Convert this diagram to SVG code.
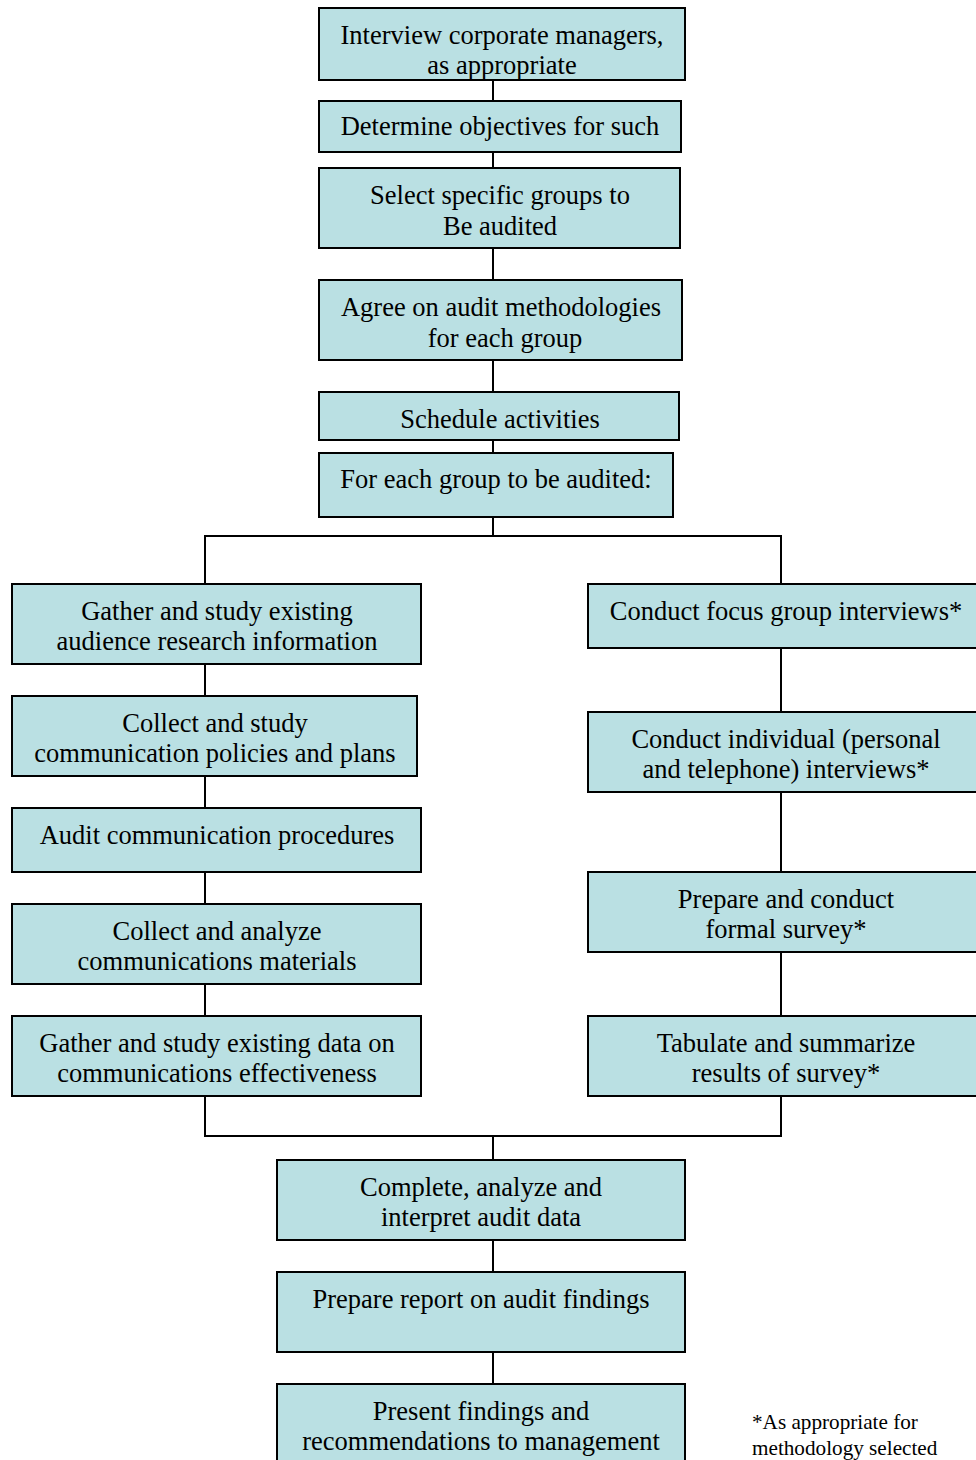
<svg xmlns="http://www.w3.org/2000/svg" width="976" height="1460" viewBox="0 0 976 1460">
<style>
.b{fill:#BAE0E3;stroke:#000;stroke-width:2}
.t{font-family:"Liberation Serif","Times New Roman",serif;font-size:26.5px;fill:#000;text-anchor:middle}
.f{font-family:"Liberation Serif","Times New Roman",serif;font-size:21.2px;fill:#000}
.c{fill:none;stroke:#000;stroke-width:2}
</style>
<rect width="976" height="1460" fill="#fff"/>
<g id="connectors" class="c">
<path d="M493 80V101M493 152V168M493 248V280M493 360V392M493 440V453M493 517V536"/>
<path d="M205 584V536H781V584"/>
<path d="M205 664V696M205 776V808M205 872V904M205 984V1016"/>
<path d="M781 648V712M781 792V872M781 952V1016"/>
<path d="M205 1096V1136H781V1096M493 1136V1160"/>
<path d="M493 1240V1272M493 1352V1384"/>
</g>
<g id="n1"><rect class="b" x="319" y="8" width="366" height="72"/><text class="t" x="502" y="44">Interview corporate managers,</text><text class="t" x="502" y="74">as appropriate</text></g>
<g id="n2"><rect class="b" x="319" y="101" width="362" height="51"/><text class="t" x="500" y="135">Determine objectives for such</text></g>
<g id="n3"><rect class="b" x="319" y="168" width="361" height="80"/><text class="t" x="500" y="204">Select specific groups to</text><text class="t" x="500" y="235">Be audited</text></g>
<g id="n4"><rect class="b" x="319" y="280" width="363" height="80"/><text class="t" x="501" y="316">Agree on audit methodologies</text><text class="t" x="505" y="347">for each group</text></g>
<g id="n5"><rect class="b" x="319" y="392" width="360" height="48"/><text class="t" x="500" y="428">Schedule activities</text></g>
<g id="n6"><rect class="b" x="319" y="453" width="354" height="64"/><text class="t" x="496" y="488">For each group to be audited:</text></g>
<g id="l1"><rect class="b" x="12" y="584" width="409" height="80"/><text class="t" x="217" y="620">Gather and study existing</text><text class="t" x="217" y="650">audience research information</text></g>
<g id="l2"><rect class="b" x="12" y="696" width="405" height="80"/><text class="t" x="215" y="732">Collect and study</text><text class="t" x="215" y="762">communication policies and plans</text></g>
<g id="l3"><rect class="b" x="12" y="808" width="409" height="64"/><text class="t" x="217" y="844">Audit communication procedures</text></g>
<g id="l4"><rect class="b" x="12" y="904" width="409" height="80"/><text class="t" x="217" y="940">Collect and analyze</text><text class="t" x="217" y="970">communications materials</text></g>
<g id="l5"><rect class="b" x="12" y="1016" width="409" height="80"/><text class="t" x="217" y="1052">Gather and study existing data on</text><text class="t" x="217" y="1082">communications effectiveness</text></g>
<g id="r1"><rect class="b" x="588" y="584" width="400" height="64"/><text class="t" x="786" y="620">Conduct focus group interviews*</text></g>
<g id="r2"><rect class="b" x="588" y="712" width="400" height="80"/><text class="t" x="786" y="748">Conduct individual (personal</text><text class="t" x="786" y="778">and telephone) interviews*</text></g>
<g id="r3"><rect class="b" x="588" y="872" width="400" height="80"/><text class="t" x="786" y="908">Prepare and conduct</text><text class="t" x="786" y="938">formal survey*</text></g>
<g id="r4"><rect class="b" x="588" y="1016" width="400" height="80"/><text class="t" x="786" y="1052">Tabulate and summarize</text><text class="t" x="786" y="1082">results of survey*</text></g>
<g id="b1"><rect class="b" x="277" y="1160" width="408" height="80"/><text class="t" x="481" y="1196">Complete, analyze and</text><text class="t" x="481" y="1226">interpret audit data</text></g>
<g id="b2"><rect class="b" x="277" y="1272" width="408" height="80"/><text class="t" x="481" y="1308">Prepare report on audit findings</text></g>
<g id="b3"><rect class="b" x="277" y="1384" width="408" height="90"/><text class="t" x="481" y="1420">Present findings and</text><text class="t" x="481" y="1450">recommendations to management</text></g>
<g id="note"><text class="f" x="752" y="1429">*As appropriate for</text><text class="f" x="752" y="1455">methodology selected</text></g>
</svg>
